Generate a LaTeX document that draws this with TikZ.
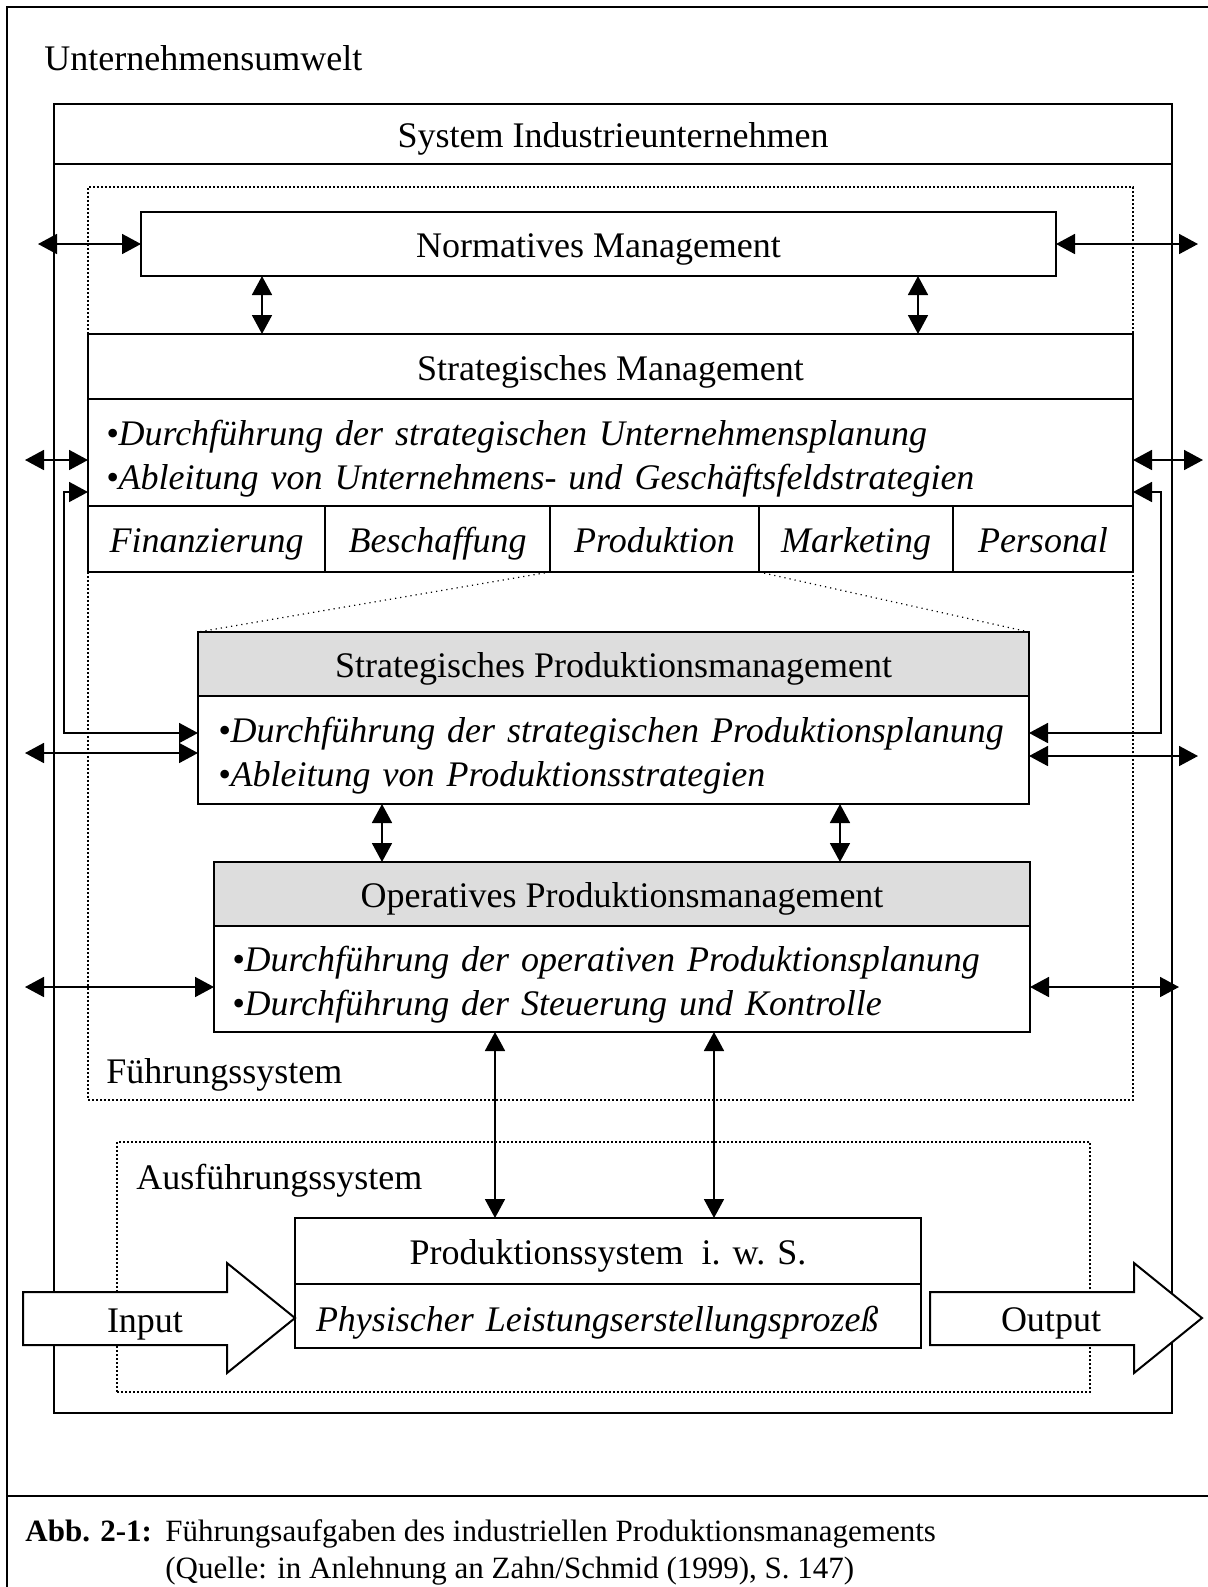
\documentclass[tikz,border=0pt]{standalone}
\usepackage{fontspec}
\setmainfont{Liberation Serif}
\usepackage{xcolor}
\usepackage{tikz}
\usetikzlibrary{arrows.meta,positioning}
\definecolor{headgray}{RGB}{221,221,221}

\begin{document}
\begin{tikzpicture}[
    x=0.5pt, y=-0.5pt,
    >={Triangle[length=9.5pt,width=10pt]},
    every node/.style={font=\fontsize{18}{22}\selectfont, inner sep=0pt},
    oneline/.style={text height=17.4pt, text depth=3.9pt},
    box/.style={draw, line width=1pt, outer sep=0pt, anchor=north west},
    titlebox/.style={box, oneline},
    headbox/.style={titlebox, fill=headgray},
    listbox/.style={box, align=left, font=\fontsize{18}{22}\selectfont\itshape},
    cell/.style={titlebox, font=\fontsize{18}{22}\selectfont\itshape, minimum height=33pt},
    dotbox/.style={draw, line width=1pt, dash pattern=on 1pt off 1pt, outer sep=0pt, anchor=north west},
    dbl/.style={<->, line width=0.9pt},
    bigarrow/.style={draw, line width=1pt, fill=white},
    captext/.style={font=\fontsize{15.5}{19}\selectfont, anchor=base west}
]
\useasboundingbox (0,0) rectangle (1208,1587);
\clip (0,0) rectangle (1208,1587);

% frame and environment
\draw[line width=1pt] (1220,7) -- (7,7) -- (7,1600);
\draw[line width=1pt] (7,1496) -- (1220,1496);
\node[anchor=base west] (env) at (44,70) {Unternehmensumwelt};

% system
\node[box, minimum width=559pt, minimum height=654.5pt] (sys) at (54,104) {};
\node[titlebox, minimum width=559pt, minimum height=30pt] (systitle) at (54,104) {System Industrieunternehmen};

\node[dotbox, minimum width=522.5pt, minimum height=456.5pt] (fs) at (88,187) {};
\node[oneline, anchor=west] (fslabel) at (106,1070) {Führungssystem};
\node[dotbox, minimum width=486.5pt, minimum height=125pt] (as) at (117,1142) {};
\node[oneline, anchor=west] (aslabel) at (136,1176) {Ausführungssystem};

% management levels
\node[titlebox, minimum width=457.5pt, minimum height=32pt] (norm) at (141,212) {Normatives Management};

\node[titlebox, minimum width=522.5pt, minimum height=32.5pt] (smt) at (88,334) {Strategisches Management};
\node[listbox, text width=504.5pt, inner xsep=9pt, minimum height=53.5pt] (sml) at (smt.south west)
    {\rule{0pt}{18.4pt}\mbox{•Durchführung der strategischen Unternehmensplanung}\\\mbox{•Ableitung von Unternehmens- und Geschäftsfeldstrategien}};
\node[cell, minimum width=118.5pt] (ffin) at (sml.south west) {Finanzierung};
\node[cell, minimum width=112.5pt] (fbes) at (ffin.north east) {Beschaffung};
\node[cell, minimum width=104.5pt] (fpro) at (fbes.north east) {Produktion};
\node[cell, minimum width=97pt] (fmar) at (fpro.north east) {Marketing};
\node[cell, minimum width=90pt] (fper) at (fmar.north east) {Personal};

\node[headbox, minimum width=415.5pt, minimum height=32pt] (spmt) at (198,632) {Strategisches Produktionsmanagement};
\node[listbox, text width=395.5pt, inner xsep=10pt, minimum height=54pt] (spml) at (spmt.south west)
    {\rule{0pt}{18.4pt}\mbox{•Durchführung der strategischen Produktionsplanung}\\\mbox{•Ableitung von Produktionsstrategien}};

\node[headbox, minimum width=408pt, minimum height=32pt] (opmt) at (214,862) {Operatives Produktionsmanagement};
\node[listbox, text width=390pt, inner xsep=9pt, minimum height=53pt] (opml) at (opmt.south west)
    {\rule{0pt}{18.4pt}\mbox{•Durchführung der operativen Produktionsplanung}\\\mbox{•Durchführung der Steuerung und Kontrolle}};

\node[titlebox, minimum width=313pt, minimum height=33pt] (prodt) at (295,1218) {Produktionssystem\ \ i. w. S.};
\node[listbox, text width=292pt, inner xsep=10.5pt, minimum height=32pt] (prodl) at (prodt.south west)
    {\rule{0pt}{19.2pt}Physischer Leistungserstellungsprozeß};

% zoom lines
\draw[line width=0.6pt, dotted] (fpro.south west) -- (spmt.north west);
\draw[line width=0.6pt, dotted] (fpro.south east) -- (spmt.north east);

% outer ends
\coordinate (eNL) at (38,244);
\coordinate (eNR) at (1198,244);
\coordinate (eSL) at (25,460);
\coordinate (eSR) at (1203,460);
\coordinate (ePL) at (25,753);
\coordinate (ePR) at (1198,756);
\coordinate (eOL) at (25,987);
\coordinate (eOR) at (1179,987);

% connectors
\draw[dbl] (eNL) -- (norm.west);
\draw[dbl] (norm.east) -- (eNR);
\draw[dbl] ([xshift=60.5pt]norm.south west) -- ([xshift=87pt]smt.north west);
\draw[dbl] ([xshift=388.5pt]norm.south west) -- ([xshift=415pt]smt.north west);
\draw[dbl] (eSL) -- (eSL -| sml.west);
\draw[dbl] (eSR -| sml.east) -- (eSR);
\draw[dbl] ([yshift=-19.75pt]sml.west) -- ++(-12pt,0) |- ([yshift=8.5pt]spml.west);
\draw[dbl] ([yshift=-19.75pt]sml.east) -- ++(14pt,0) |- ([yshift=8.5pt]spml.east);
\draw[dbl] (ePL) -- (ePL -| spml.west);
\draw[dbl] (ePR -| spml.east) -- (ePR);
\draw[dbl] ([xshift=92pt]spml.south west) -- ([xshift=84pt]opmt.north west);
\draw[dbl] ([xshift=321pt]spml.south west) -- ([xshift=313pt]opmt.north west);
\draw[dbl] (eOL) -- (eOL -| opml.west);
\draw[dbl] (eOR -| opml.east) -- (eOR);
\draw[dbl] ([xshift=140.5pt]opml.south west) -- ([xshift=100pt]prodt.north west);
\draw[dbl] ([xshift=250pt]opml.south west) -- ([xshift=209.5pt]prodt.north west);

% input / output
\draw[bigarrow] (23,1292) -- (227,1292) -- (227,1263) -- (295,1318) -- (227,1373) -- (227,1345) -- (23,1345) -- cycle;
\node[anchor=base] (inp) at (145,1332) {Input};
\draw[bigarrow] (930,1292) -- (1134,1292) -- (1134,1263) -- (1202,1318) -- (1134,1373) -- (1134,1345) -- (930,1345) -- cycle;
\node[anchor=base] (outp) at (1051,1331) {Output};

% caption
\node[captext, font=\fontsize{15.5}{19}\selectfont\bfseries] (abb) at (25,1541) {Abb. 2-1:};
\node[captext] (cap1) at (165,1541) {Führungsaufgaben des industriellen Produktionsmanagements};
\node[captext] (cap2) at (165,1578) {(Quelle: in Anlehnung an Zahn/Schmid (1999), S. 147)};
\end{tikzpicture}
\end{document}
